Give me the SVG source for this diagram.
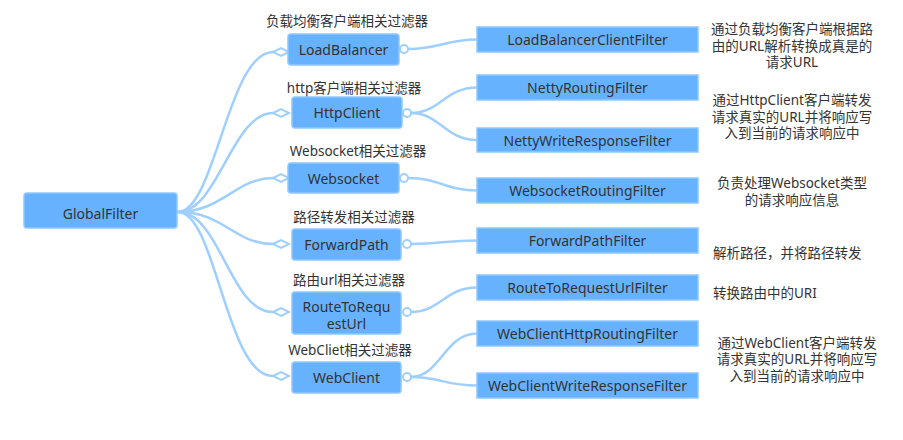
<svg xmlns="http://www.w3.org/2000/svg" width="903" height="440" viewBox="0 0 903 440">
<style>
text{font-family:"Noto Sans","Noto Sans CJK SC",sans-serif;fill:#333;dominant-baseline:central}
.n{font-size:14px;text-anchor:middle}
.lb{font-size:13.5px;text-anchor:middle}
.d{font-size:13.5px;text-anchor:middle}
.ds{font-size:13.5px;text-anchor:start}
.box{fill:#66b2ff;stroke:#8ec8ff;stroke-width:1.5}
.rbox{fill:#66b2ff;stroke:#8ec8ff;stroke-width:1.5}
.c{fill:none;stroke:#9fcfff;stroke-width:2.5;stroke-linecap:round}
.dm{fill:#fff;stroke:#9fcfff;stroke-width:2}
.ci{fill:#fff;stroke:#9fcfff;stroke-width:2}
</style>
<rect width="903" height="440" fill="#fff"/>
<g id="connectors">
<path class="c" d="M178,212 C215,212 228,52 273,52"/>
<path class="c" d="M178,212 C218,212 232,113 273,113"/>
<path class="c" d="M178,212 C222,212 236,178 273,178"/>
<path class="c" d="M178,212 C224,212 234,244 273,244"/>
<path class="c" d="M178,212 C220,212 230,312 273,312"/>
<path class="c" d="M178,212 C216,212 226,376 273,376"/>
<path class="c" d="M408,49 C440,49 445,39.5 477,39.5"/>
<path class="c" d="M411,113 C440,113 445,87.5 477,87.5"/>
<path class="c" d="M411,113 C440,113 445,140 477,140"/>
<path class="c" d="M408,178 C440,178 445,190.5 477,190.5"/>
<path class="c" d="M411,244 C440,244 445,240.5 477,240.5"/>
<path class="c" d="M411,312 C440,312 445,287.5 477,287.5"/>
<path class="c" d="M411,377 C440,377 445,333.5 477,333.5"/>
<path class="c" d="M411,377 C440,377 445,385.5 477,385.5"/>
<polygon class="dm" points="273,52 281,48 289,52 281,56"/>
<polygon class="dm" points="273,113 281,109 289,113 281,117"/>
<polygon class="dm" points="273,178 281,174 289,178 281,182"/>
<polygon class="dm" points="273,244 281,240 289,244 281,248"/>
<polygon class="dm" points="273,312 281,308 289,312 281,316"/>
<polygon class="dm" points="273,376 281,372 289,376 281,380"/>
<circle class="ci" cx="404" cy="49" r="4"/>
<circle class="ci" cx="407" cy="113" r="4"/>
<circle class="ci" cx="404" cy="178" r="4"/>
<circle class="ci" cx="407" cy="244" r="4"/>
<circle class="ci" cx="407" cy="312" r="4"/>
<circle class="ci" cx="407" cy="377" r="4"/>
</g>
<g id="GlobalFilter"><rect class="box" x="24" y="193" width="153" height="35" rx="3"/><text class="n" x="100.5" y="213">GlobalFilter</text></g>
<g id="LoadBalancer"><text class="lb" x="347" y="21">负载均衡客户端相关过滤器</text><rect class="box" x="288" y="34" width="111" height="31" rx="3"/><text class="n" x="343.5" y="49.5">LoadBalancer</text></g>
<g id="HttpClient"><text class="lb" x="354" y="88">http客户端相关过滤器</text><rect class="box" x="292" y="97" width="110" height="31" rx="3"/><text class="n" x="347" y="112.5">HttpClient</text></g>
<g id="Websocket"><text class="lb" x="358" y="151">Websocket相关过滤器</text><rect class="box" x="288" y="163" width="111" height="30" rx="3"/><text class="n" x="343.5" y="178">Websocket</text></g>
<g id="ForwardPath"><text class="lb" x="354" y="217">路径转发相关过滤器</text><rect class="box" x="292" y="229" width="109" height="31" rx="3"/><text class="n" x="346.5" y="244.5">ForwardPath</text></g>
<g id="RouteToRequestUrl"><text class="lb" x="349" y="280">路由url相关过滤器</text><rect class="box" x="292" y="292" width="109" height="42" rx="3"/><text class="n" x="346.5" y="306.5">RouteToRequ</text><text class="n" x="346.5" y="323">estUrl</text></g>
<g id="WebClient"><text class="lb" x="350" y="350">WebCliet相关过滤器</text><rect class="box" x="292" y="362" width="109" height="31" rx="3"/><text class="n" x="346.5" y="377.5">WebClient</text></g>
<g id="LoadBalancerClientFilter"><rect class="rbox" x="477" y="27" width="221" height="25"/><text class="n" x="587.5" y="39.5">LoadBalancerClientFilter</text></g>
<g id="NettyRoutingFilter"><rect class="rbox" x="477" y="75" width="221" height="25"/><text class="n" x="587.5" y="87.5">NettyRoutingFilter</text></g>
<g id="NettyWriteResponseFilter"><rect class="rbox" x="477" y="128" width="221" height="24"/><text class="n" x="587.5" y="140">NettyWriteResponseFilter</text></g>
<g id="WebsocketRoutingFilter"><rect class="rbox" x="477" y="178" width="221" height="25"/><text class="n" x="587.5" y="190.5">WebsocketRoutingFilter</text></g>
<g id="ForwardPathFilter"><rect class="rbox" x="477" y="228" width="221" height="25"/><text class="n" x="587.5" y="240.5">ForwardPathFilter</text></g>
<g id="RouteToRequestUrlFilter"><rect class="rbox" x="477" y="275" width="221" height="25"/><text class="n" x="587.5" y="287.5">RouteToRequestUrlFilter</text></g>
<g id="WebClientHttpRoutingFilter"><rect class="rbox" x="477" y="321" width="221" height="25"/><text class="n" x="587.5" y="333.5">WebClientHttpRoutingFilter</text></g>
<g id="WebClientWriteResponseFilter"><rect class="rbox" x="477" y="373" width="221" height="25"/><text class="n" x="587.5" y="385.5">WebClientWriteResponseFilter</text></g>
<g id="desc1"><text class="d" x="792" y="29">通过负载均衡客户端根据路</text><text class="d" x="792" y="46">由的URL解析转换成真是的</text><text class="d" x="792" y="62">请求URL</text></g>
<g id="desc2"><text class="d" x="792" y="100">通过HttpClient客户端转发</text><text class="d" x="792" y="117">请求真实的URL并将响应写</text><text class="d" x="792" y="133">入到当前的请求响应中</text></g>
<g id="desc3"><text class="d" x="792" y="183">负责处理Websocket类型</text><text class="d" x="792" y="200">的请求响应信息</text></g>
<g id="desc4"><text class="ds" x="713" y="253">解析路径，并将路径转发</text></g>
<g id="desc5"><text class="ds" x="713" y="293">转换路由中的URI</text></g>
<g id="desc6"><text class="d" x="797" y="343">通过WebClient客户端转发</text><text class="d" x="797" y="359">请求真实的URL并将响应写</text><text class="d" x="797" y="376">入到当前的请求响应中</text></g>
</svg>
